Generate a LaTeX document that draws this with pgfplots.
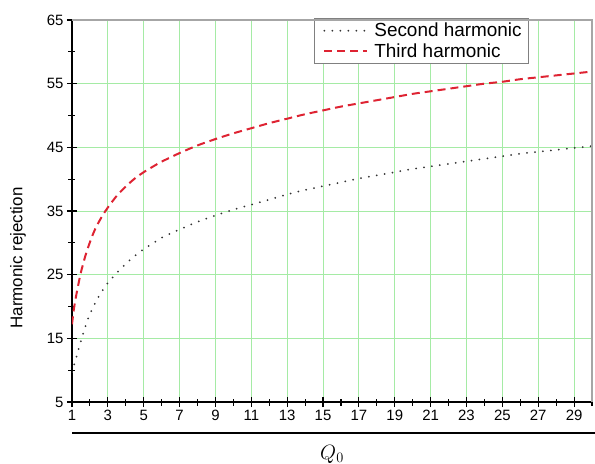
\documentclass[border=0pt]{standalone}
\usepackage{fontspec}
\setmainfont{Liberation Sans}
\usepackage{pgfplots}
\pgfplotsset{compat=1.18}
\definecolor{gridgreen}{RGB}{165,235,165}
\definecolor{curvered}{RGB}{222,35,50}
\begin{document}
\begin{tikzpicture}
\path[use as bounding box] (-72bp,-62bp) rectangle (523bp,402bp);
\begin{axis}[
  at={(0,0)}, anchor=south west,
  scale only axis, width=520bp, height=382bp,
  xmin=1, xmax=30, ymin=5, ymax=65,
  xtick={1,3,...,29}, ytick={5,15,...,65},
  minor xtick={2,4,...,30}, minor ytick={10,20,...,60},
  axis x line*=bottom, axis y line*=left,
  axis line style={black, line width=1.3bp, -},
  tick align=center, major tick length=10bp, minor tick length=7bp,
  every tick/.style={black, line width=1.1bp},
  grid=major, major grid style={gridgreen, line width=0.8bp},
  ticklabel style={font=\fontsize{15}{17}\selectfont},
  /pgf/number format/assume math mode=true,
  ylabel={Harmonic rejection},
  ylabel style={font=\fontsize{17}{19}\selectfont, at={(axis description cs:-0.104,0.377)}, anchor=center},
  xlabel={$Q_0$},
  xlabel style={font=\fontsize{20}{22}\selectfont, at={(axis description cs:0.5,0)}, anchor=center, yshift=-52bp},
  legend style={at={(axis description cs:0.879,1.006)}, anchor=north east, draw=gray, line width=0.8bp, fill=white,
    font=\fontsize{19}{21}\selectfont, inner xsep=5bp, inner ysep=3bp, row sep=1bp},
  legend cell align=left,
  legend image code/.code={\draw[#1] (0bp,0bp) -- (43bp,0bp); \path (-4bp,0bp) (47bp,0bp);},
]
\addplot[black!80, line width=2bp, line cap=round, dash pattern=on 0bp off 8bp, smooth] table {
x y
1.0 9.7
1.1 10.7
1.2 11.6
1.3 12.6
1.4 13.6
1.5 14.6
1.75 16.9
2.0 18.8
2.25 20.3
2.5 21.6
2.75 22.7
3.0 23.7
3.5 25.3
4.0 26.7
4.5 27.95
5.0 29.0
5.5 29.9
6.0 30.8
7.0 32.1
8.0 33.3
9.0 34.3
10 35.2
11 36.0
12 36.8
13 37.6
14 38.3
15 38.9
16 39.5
17 40.1
18 40.6
19 41.1
20 41.6
21 42.0
22 42.4
23 42.8
24 43.2
25 43.6
26 44.0
27 44.3
28 44.6
29 44.9
30 45.2
};
\addlegendentry{Second harmonic}
\addplot[curvered, line width=2bp, dash pattern=on 8bp off 5bp, smooth] table {
x y
1.0 17.2
1.1 19.5
1.2 21.2
1.3 22.7
1.4 24.1
1.5 25.4
1.75 28.0
2.0 30.1
2.25 31.9
2.5 33.3
2.75 34.5
3.0 35.55
3.5 37.4
4.0 38.85
4.5 40.1
5.0 41.1
5.5 41.95
6.0 42.75
7.0 44.1
8.0 45.3
9.0 46.3
10 47.2
11 48.0
12 48.8
13 49.5
14 50.2
15 50.8
16 51.4
17 51.9
18 52.4
19 52.9
20 53.4
21 53.8
22 54.2
23 54.6
24 55.0
25 55.3
26 55.7
27 56.0
28 56.3
29 56.6
30 56.9
};
\addlegendentry{Third harmonic}
\end{axis}
\draw[gray!70, line width=1.2bp] (0bp,382bp) -- (520bp,382bp) -- (520bp,0bp);
\draw[black, line width=1.2bp] (0bp,-31bp) -- (523bp,-31bp);
\end{tikzpicture}
\end{document}
